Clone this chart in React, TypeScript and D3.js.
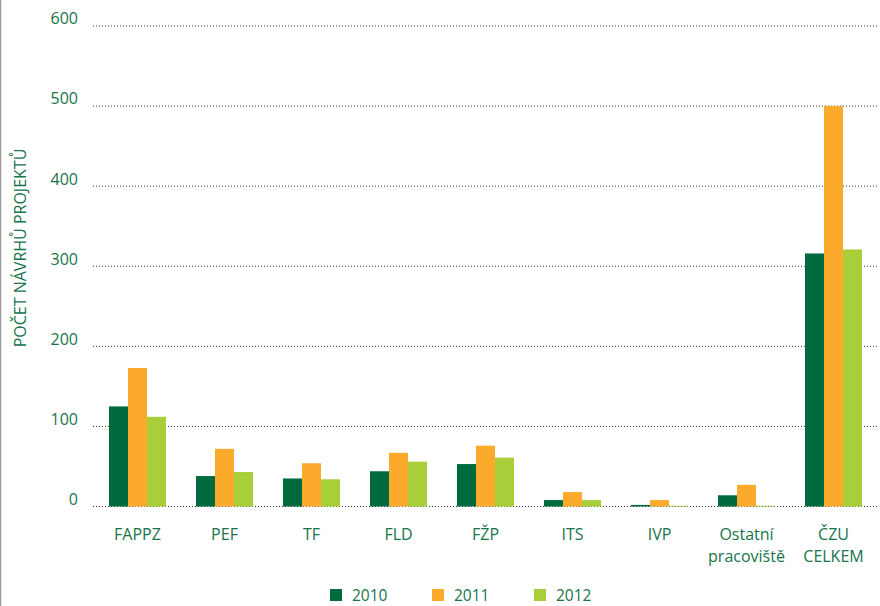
import React from "react";
import * as d3 from "d3";

const categories = ["FAPPZ", "PEF", "TF", "FLD", "FŽP", "ITS", "IVP", "Ostatní\npracoviště", "ČZU\nCELKEM"];
const seriesNames = ["2010", "2011", "2012"];
const values2010 = [125, 38, 35, 44, 53, 8, 2, 14, 316];
const values2011 = [173, 72, 54, 67, 76, 18, 8, 27, 500];
const values2012 = [112, 43, 34, 56, 61, 8, 1, 1, 321];
const yTicks = [0, 100, 200, 300, 400, 500, 600];
const colors = ["#006a3f", "#fbaa2c", "#a8cf3a"];
const textColor = "#17744b";

export default function App() {
  const W = 880, H = 606;
  const left = 94, right = 877, top = 26, bottom = 506.5;
  const series = [values2010, values2011, values2012];
  const x = d3.scaleBand().domain(categories).range([left, right]).paddingInner(0).paddingOuter(0);
  const bw = 19;
  const y = d3.scaleLinear().domain([0, 600]).range([bottom, top]);
  const font = "'Open Sans', 'Noto Sans', sans-serif";
  return (
    <svg width={W} height={H} style={{ position: "absolute", left: 0, top: 0, background: "#fff" }} fontFamily={font}>
      <line x1={0.5} x2={0.5} y1={0} y2={H} stroke="#9a9a9a" strokeWidth={1.5} />
      {yTicks.map(t => (
        <g key={t}>
          <line x1={93} x2={878} y1={y(t)} y2={y(t)} stroke="#333" strokeWidth={1} strokeDasharray="1,2" />
          <text x={78} y={y(t)} dy="-0.1em" textAnchor="end" fontSize={16} fill={textColor}>{t}</text>
        </g>
      ))}
      {categories.map((c, i) => {
        const cx = (x(c) as number) + x.bandwidth() / 2;
        return (
          <g key={c}>
            {series.map((s, j) => (
              <rect key={j} x={cx - 1.5 * bw + j * bw} width={bw} y={y(s[i])} height={bottom - y(s[i])} fill={colors[j]} />
            ))}
            {c.split("\n").map((line, k) => (
              <text key={k} x={cx} y={540 + k * 22} textAnchor="middle" fontSize={16} fill={textColor}>{line}</text>
            ))}
          </g>
        );
      })}
      <text transform={`translate(26, 248) rotate(-90)`} textAnchor="middle" fontSize={16} fill={textColor}>POČET NÁVRHŮ PROJEKTŮ</text>
      {seriesNames.map((n, j) => (
        <g key={n} transform={`translate(${330 + j * 102}, 589)`}>
          <rect x={0} y={0} width={12} height={12} fill={colors[j]} />
          <text x={22} y={12} fontSize={15.5} fill={textColor}>{n}</text>
        </g>
      ))}
    </svg>
  );
}
